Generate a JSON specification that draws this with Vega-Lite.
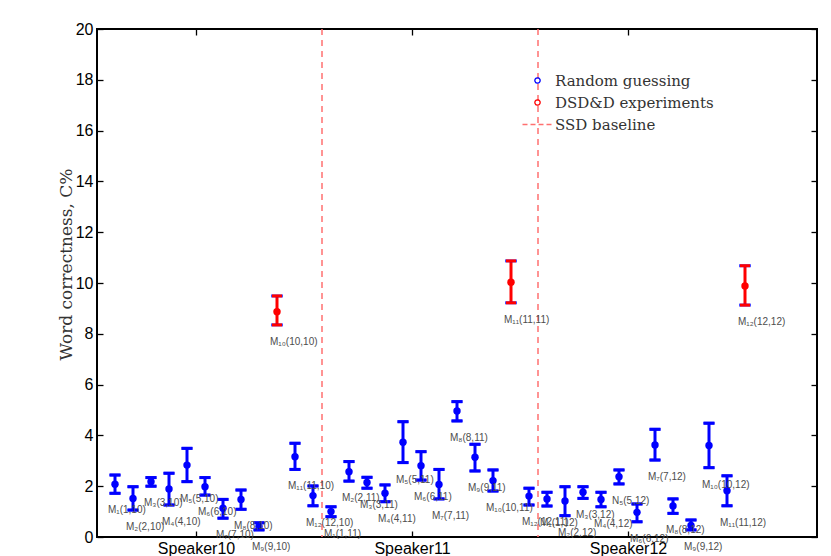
{
  "$schema": "https://vega.github.io/schema/vega-lite/v6.json",
  "width": 720,
  "height": 508,
  "autosize": {"type": "none"},
  "padding": {"left": 97, "top": 29, "right": 14, "bottom": 19},
  "background": "white",
  "config": {
    "view": {"stroke": "black", "strokeWidth": 2},
    "axis": {"domain": false, "grid": false, "tickColor": "black", "tickWidth": 1.3, "labelColor": "black", "labelFont": "Liberation Sans", "labelFontSize": 16}
  },
  "datasets": {
    "lines": [
      {"x": 12.5, "series": "SSD baseline"},
      {"x": 24.5, "series": "SSD baseline"}
    ],
    "pts": [
      {"x": 1, "y": 2.08, "lo": 1.72, "hi": 2.44, "series": "Random guessing", "label": "M₁(1,10)"},
      {"x": 2, "y": 1.52, "lo": 1.06, "hi": 1.98, "series": "Random guessing", "label": "M₂(2,10)"},
      {"x": 3, "y": 2.18, "lo": 2.0, "hi": 2.34, "series": "Random guessing", "label": "M₃(3,10)"},
      {"x": 4, "y": 1.89, "lo": 1.26, "hi": 2.51, "series": "Random guessing", "label": "M₄(4,10)"},
      {"x": 5, "y": 2.83, "lo": 2.18, "hi": 3.49, "series": "Random guessing", "label": "M₅(5,10)"},
      {"x": 6, "y": 1.98, "lo": 1.65, "hi": 2.34, "series": "Random guessing", "label": "M₆(6,10)"},
      {"x": 7, "y": 1.13, "lo": 0.74, "hi": 1.48, "series": "Random guessing", "label": "M₇(7,10)"},
      {"x": 8, "y": 1.48, "lo": 1.09, "hi": 1.85, "series": "Random guessing", "label": "M₈(8,10)"},
      {"x": 9, "y": 0.41, "lo": 0.28, "hi": 0.56, "series": "Random guessing", "label": "M₉(9,10)"},
      {"x": 10, "y": 8.87, "lo": 8.35, "hi": 9.49, "series": "DSD&D experiments", "label": "M₁₀(10,10)"},
      {"x": 11, "y": 3.16, "lo": 2.66, "hi": 3.69, "series": "Random guessing", "label": "M₁₁(11,10)"},
      {"x": 12, "y": 1.63, "lo": 1.23, "hi": 2.01, "series": "Random guessing", "label": "M₁₂(12,10)"},
      {"x": 13, "y": 1.0, "lo": 0.8, "hi": 1.19, "series": "Random guessing", "label": "M₁(1,11)"},
      {"x": 14, "y": 2.57, "lo": 2.2, "hi": 2.97, "series": "Random guessing", "label": "M₂(2,11)"},
      {"x": 15, "y": 2.15, "lo": 1.92, "hi": 2.35, "series": "Random guessing", "label": "M₃(3,11)"},
      {"x": 16, "y": 1.72, "lo": 1.39, "hi": 2.05, "series": "Random guessing", "label": "M₄(4,11)"},
      {"x": 17, "y": 3.73, "lo": 2.93, "hi": 4.54, "series": "Random guessing", "label": "M₅(5,11)"},
      {"x": 18, "y": 2.81, "lo": 2.24, "hi": 3.36, "series": "Random guessing", "label": "M₆(6,11)"},
      {"x": 19, "y": 2.07, "lo": 1.5, "hi": 2.66, "series": "Random guessing", "label": "M₇(7,11)"},
      {"x": 20, "y": 4.96, "lo": 4.57, "hi": 5.33, "series": "Random guessing", "label": "M₈(8,11)"},
      {"x": 21, "y": 3.14, "lo": 2.6, "hi": 3.65, "series": "Random guessing", "label": "M₉(9,11)"},
      {"x": 22, "y": 2.22, "lo": 1.81, "hi": 2.64, "series": "Random guessing", "label": "M₁₀(10,11)"},
      {"x": 23, "y": 10.03, "lo": 9.22, "hi": 10.87, "series": "DSD&D experiments", "label": "M₁₁(11,11)"},
      {"x": 24, "y": 1.61, "lo": 1.26, "hi": 1.92, "series": "Random guessing", "label": "M₁₂(12,11)"},
      {"x": 25, "y": 1.5, "lo": 1.22, "hi": 1.76, "series": "Random guessing", "label": "M₁(1,12)"},
      {"x": 26, "y": 1.42, "lo": 0.84, "hi": 1.98, "series": "Random guessing", "label": "M₂(2,12)"},
      {"x": 27, "y": 1.76, "lo": 1.52, "hi": 1.98, "series": "Random guessing", "label": "M₃(3,12)"},
      {"x": 28, "y": 1.48, "lo": 1.19, "hi": 1.76, "series": "Random guessing", "label": "M₄(4,12)"},
      {"x": 29, "y": 2.37, "lo": 2.09, "hi": 2.64, "series": "Random guessing", "label": "N₅(5,12)"},
      {"x": 30, "y": 0.97, "lo": 0.6, "hi": 1.3, "series": "Random guessing", "label": "M₆(6,12)"},
      {"x": 31, "y": 3.62, "lo": 3.03, "hi": 4.24, "series": "Random guessing", "label": "M₇(7,12)"},
      {"x": 32, "y": 1.22, "lo": 0.93, "hi": 1.5, "series": "Random guessing", "label": "M₈(8,12)"},
      {"x": 33, "y": 0.45, "lo": 0.28, "hi": 0.67, "series": "Random guessing", "label": "M₉(9,12)"},
      {"x": 34, "y": 3.6, "lo": 2.73, "hi": 4.48, "series": "Random guessing", "label": "M₁₀(10,12)"},
      {"x": 35, "y": 1.82, "lo": 1.23, "hi": 2.41, "series": "Random guessing", "label": "M₁₁(11,12)"},
      {"x": 36, "y": 9.88, "lo": 9.13, "hi": 10.68, "series": "DSD&D experiments", "label": "M₁₂(12,12)"}
    ]
  },
  "layer": [
    {
      "data": {"name": "lines"},
      "mark": {"type": "rule", "strokeDash": [6, 5], "strokeWidth": 1.5},
      "encoding": {
        "x": {"field": "x", "type": "quantitative", "scale": {"domain": [0, 40], "nice": false, "zero": false},
              "axis": {"orient": "top", "values": [5.5, 17.5, 29.5], "labels": false, "tickSize": -6, "title": null}},
        "color": {"field": "series", "type": "nominal",
          "scale": {"domain": ["Random guessing", "DSD&D experiments", "SSD baseline"], "range": ["#0000ff", "#ff0000", "#ff7070"]},
          "legend": {
            "title": null, "orient": "none", "legendX": 433, "legendY": 44, "padding": 0,
            "symbolSize": 400, "rowPadding": 6, "labelOffset": 10,
            "labelFont": "DejaVu Serif", "labelFontSize": 15, "labelColor": "#333333", "labelLimit": 300,
            "encode": {"symbols": {"update": {
              "shape": {"signal": "datum.value === 'SSD baseline' ? 'M-1.5,0H1.5' : 'circle'"},
              "size": {"signal": "datum.value === 'SSD baseline' ? 400 : 28"},
              "strokeDash": {"signal": "datum.value === 'SSD baseline' ? [5,3] : [1,0]"},
              "fill": {"value": "white"},
              "fillOpacity": {"value": 0},
              "stroke": {"scale": "color", "field": "value"},
              "strokeWidth": {"value": 1.3},
              "opacity": {"value": 1}
            }}}
          }}
      }
    },
    {
      "data": {"name": "pts"},
      "mark": {"type": "rule", "strokeWidth": 3},
      "encoding": {
        "x": {"field": "x", "type": "quantitative", "scale": {"domain": [0, 40], "nice": false, "zero": false}, "axis": null},
        "y": {"field": "lo", "type": "quantitative", "scale": {"domain": [0, 20], "nice": false},
              "axis": {"orient": "right", "values": [0, 2, 4, 6, 8, 10, 12, 14, 16, 18, 20], "labels": false, "tickSize": -6, "title": null}},
        "y2": {"field": "hi"},
        "color": {"field": "series", "type": "nominal"}
      }
    },
    {
      "data": {"name": "pts"},
      "mark": {"type": "tick", "orient": "horizontal", "size": 12, "thickness": 3, "color": "#0000ff"},
      "encoding": {
        "x": {"field": "x", "type": "quantitative", "axis": null},
        "y": {"field": "lo", "type": "quantitative", "axis": null}
      }
    },
    {
      "data": {"name": "pts"},
      "mark": {"type": "tick", "orient": "horizontal", "size": 12, "thickness": 3, "color": "#0000ff"},
      "encoding": {
        "x": {"field": "x", "type": "quantitative", "axis": null},
        "y": {"field": "hi", "type": "quantitative", "axis": null}
      }
    },
    {
      "data": {"name": "pts"},
      "mark": {"type": "tick", "orient": "horizontal", "size": 10, "thickness": 3, "opacity": 1},
      "encoding": {
        "x": {"field": "x", "type": "quantitative", "axis": null},
        "y": {"field": "lo", "type": "quantitative", "axis": null},
        "color": {"field": "series", "type": "nominal"}
      }
    },
    {
      "data": {"name": "pts"},
      "mark": {"type": "tick", "orient": "horizontal", "size": 10, "thickness": 3, "opacity": 1},
      "encoding": {
        "x": {"field": "x", "type": "quantitative", "axis": null},
        "y": {"field": "hi", "type": "quantitative", "axis": null},
        "color": {"field": "series", "type": "nominal"}
      }
    },
    {
      "data": {"name": "pts"},
      "mark": {"type": "point", "filled": true, "shape": "circle", "size": 55, "opacity": 1},
      "encoding": {
        "x": {"field": "x", "type": "quantitative",
              "axis": {"orient": "bottom", "values": [5.5, 17.5, 29.5], "tickSize": -6, "labelPadding": 9, "title": null,
                       "labelExpr": "datum.value == 5.5 ? 'Speaker10' : datum.value == 17.5 ? 'Speaker11' : 'Speaker12'"}},
        "y": {"field": "y", "type": "quantitative",
              "axis": {"orient": "left", "values": [0, 2, 4, 6, 8, 10, 12, 14, 16, 18, 20], "tickSize": -6, "labelPadding": 10,
                       "title": "Word correctness, C%", "titleFont": "DejaVu Serif", "titleFontSize": 17, "titleFontWeight": "normal",
                       "titleColor": "#333333", "titleX": -31, "titleY": 235, "titleBaseline": "middle", "titleAlign": "center", "titleAngle": -90}},
        "color": {"field": "series", "type": "nominal"}
      }
    },
    {
      "data": {"name": "pts"},
      "mark": {"type": "text", "align": "left", "baseline": "middle", "dx": -7, "dy": 17, "font": "Liberation Sans", "fontSize": 10, "color": "#4d4d4d"},
      "encoding": {
        "x": {"field": "x", "type": "quantitative", "axis": null},
        "y": {"field": "lo", "type": "quantitative", "axis": null},
        "text": {"field": "label"}
      }
    }
  ],
  "resolve": {"axis": {"x": "independent", "y": "independent"}}
}
